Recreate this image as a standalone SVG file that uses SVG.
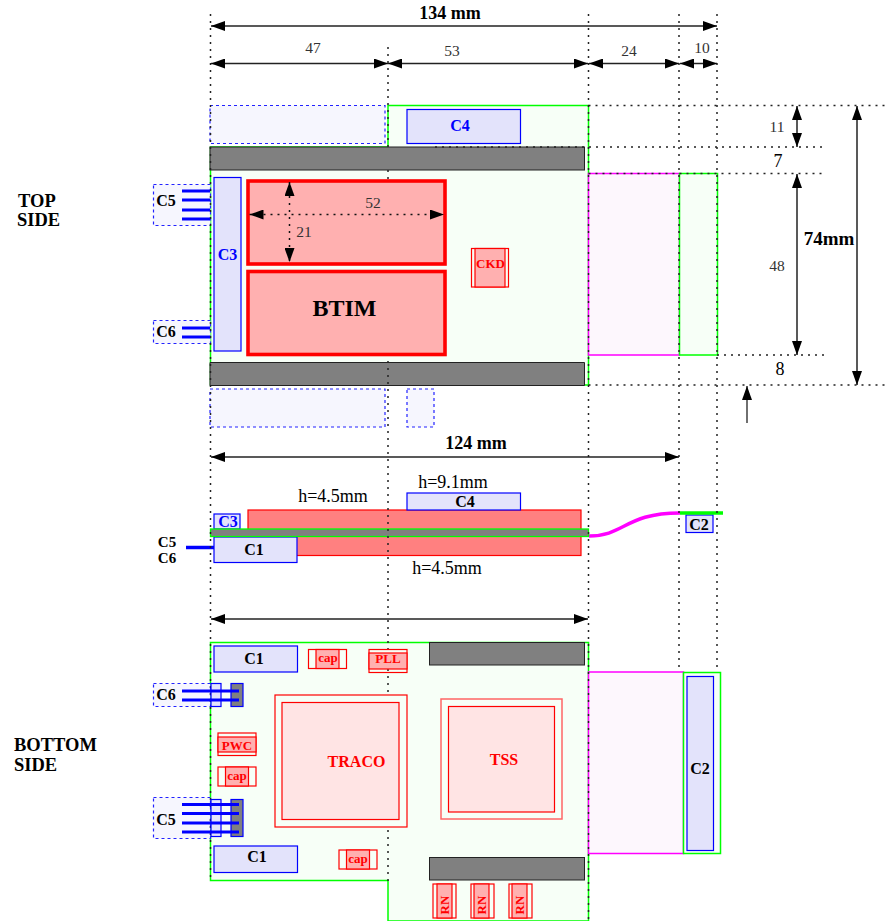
<svg xmlns="http://www.w3.org/2000/svg" width="887" height="921" viewBox="0 0 887 921">
<style>
text{font-family:"Liberation Serif","Times New Roman",serif;fill:#000}
.b{font-weight:bold}
.c{text-anchor:middle}
.d{fill:#333}
.blue{fill:#00f}.red{fill:#f00}
.dot{fill:none;stroke:#222;stroke-width:1.500;stroke-dasharray:2 5}
.dim{fill:none;stroke:#222;stroke-width:1.500;marker-start:url(#s);marker-end:url(#e)}
.bd{fill:#f7fff7;stroke:#0f0;stroke-width:1.500}
.g{fill:#808080;stroke:#222;stroke-width:1}
.cn{fill:#e3e3fb;stroke:#00f;stroke-width:1.200}
.gh{fill:#f6f6fe;stroke:#22f;stroke-width:1.200;stroke-dasharray:3 3}
.mag{fill:#fdf7fd;stroke:#f0f;stroke-width:1.500}
.chip{fill:#ffb0b0;stroke:#f00;stroke-width:3.600}
.sm{fill:#ffb0b0;stroke:#f00;stroke-width:1.200}
.no{fill:none;stroke:#f00;stroke-width:1.200}
.pk{fill:#ffe4e4;stroke:#f00;stroke-width:1.200}
.pin{stroke:#00f;stroke-width:3.200;fill:none}
</style>
<defs>
<marker id="e" markerUnits="userSpaceOnUse" markerWidth="15" markerHeight="10" refX="14" refY="5" orient="auto"><path d="M0 0L14 5L0 10Z" fill="#000"/></marker>
<marker id="s" markerUnits="userSpaceOnUse" markerWidth="15" markerHeight="10" refX="0" refY="5" orient="auto"><path d="M14 0L0 5L14 10Z" fill="#000"/></marker>
</defs>
<g id="top-side">
<path class="bd" d="M388 105.500H588.500V385H210.500V147H388Z"/>
<rect id="top-mag" class="mag" x="588.500" y="173.500" width="91" height="181.500"/>
<rect id="top-green" class="bd" x="679.500" y="173.500" width="38" height="181.500"/>
<rect class="gh" x="210" y="105.500" width="175" height="38"/>
<rect class="gh" x="210" y="389" width="175" height="38"/>
<rect class="gh" x="407" y="389" width="27" height="38"/>
<rect class="gh" x="153.500" y="184.500" width="57" height="41"/>
<rect class="gh" x="153.500" y="320.500" width="57" height="23"/>
<rect class="g" x="210" y="147" width="374.500" height="23"/>
</g>
<g id="side-view">
<rect id="chip-side" x="248" y="510" width="333" height="45.500" fill="#ff8080" stroke="#f00" stroke-width="1.200"/>
<path fill="none" stroke="#f0f" stroke-width="3.500" d="M589 536C625 536 625 513 680 513"/>
<rect class="cn" x="214" y="514" width="26" height="15"/><text class="b blue c" x="228" y="526.500" font-size="16">C3</text>
<rect class="cn" x="407" y="493" width="113.500" height="17"/><text class="b c" x="465" y="507" font-size="16">C4</text>
<rect class="cn" x="214" y="537" width="83" height="25.500"/><text class="b c" x="254" y="555" font-size="16">C1</text>
<rect x="210.500" y="529" width="378" height="7.500" fill="#808080" stroke="#0f0" stroke-width="1.300"/>
<rect class="cn" x="686" y="515" width="27" height="17.500"/><text class="b c" x="699" y="529.500" font-size="16">C2</text>
<path d="M680 513H723" stroke="#0f0" stroke-width="3.500" fill="none"/>
<path d="M186 547.500H214" stroke="#00f" stroke-width="3.500" fill="none"/>
<text class="b c" x="167" y="547" font-size="15">C5</text><text class="b c" x="167" y="563" font-size="15">C6</text>
</g>
<g id="bottom-side">
<path class="bd" d="M210.500 642.500H588.500V921H388V880.500H210.500Z"/>
<rect class="mag" x="588.500" y="672" width="95" height="181.500"/>
<rect class="bd" x="683.500" y="672.500" width="37" height="181"/>
<rect class="g" x="429.500" y="642.500" width="155" height="22.500"/>
<rect class="g" x="429.500" y="857.500" width="155" height="22.500"/>
<rect class="gh" x="153.500" y="683.500" width="57" height="23"/>
<rect class="gh" x="153.500" y="797.500" width="57" height="41"/>
</g>
<g id="connectors">
<path class="g" d="M210 362.500H584.500V385.500H210Z"/>
<path class="dot" d="M210.500 14V881M388 47V147M388 170V181M388 354V881M588.500 14V921M679 14V672M717 14V672"/>
<path class="dot" d="M588.500 105.500H887M435 147H825M588.500 173.500H825M717 355H825M588.500 385H887"/>
<path class="dim" d="M211 26H717"/>
<path class="dim" d="M211 63.500H388"/>
<path class="dim" d="M388 63.500H588"/>
<path class="dim" d="M589 63.500H679"/>
<path class="dim" d="M680 63.500H717"/>
<path class="dim" d="M797 106V147"/>
<path class="dim" d="M797 174V355"/>
<path class="dim" d="M857 106V385"/>
<path d="M747 423V386" fill="none" stroke="#222" stroke-width="1.300" marker-end="url(#e)"/>
<path class="dim" d="M211 457H679"/>
<path class="dim" d="M211 619H588"/>
</g>
<g id="C4-top"><rect class="cn" x="407" y="109.500" width="113.500" height="34"/><text class="b blue c" x="460" y="131" font-size="16">C4</text></g>
<g id="C3-top"><rect class="cn" x="214" y="177.500" width="27" height="173.500"/><text class="b blue c" x="227.500" y="260" font-size="16">C3</text></g>
<g id="C5-top"><path class="pin" d="M182 191H210M182 200H210M182 210H210M182 219H210"/><text class="b c" x="166" y="206" font-size="16">C5</text></g>
<g id="C6-top"><path class="pin" d="M182 328H210M182 337H210"/><text class="b c" x="166" y="337" font-size="16">C6</text></g>
<g id="chip-upper"><rect class="chip" x="248" y="181" width="197" height="83"/>
<path class="dim" style="stroke-dasharray:2 5;stroke:#111" d="M249.500 214.500H444"/>
<path class="dim" style="stroke-dasharray:2 5;stroke:#111" d="M289.500 182V262"/></g>
<g id="BTIM"><rect class="chip" x="248" y="271.500" width="197" height="83"/><text class="b c" x="344.500" y="316" font-size="24">BTIM</text></g>
<g id="CKD"><rect class="no" x="471.500" y="248.500" width="37" height="38.500"/><rect class="sm" x="475" y="248.500" width="30" height="38.500"/><text class="b red c" x="490.500" y="268" font-size="13">CKD</text></g>
<g id="C1-bottom-a"><rect class="cn" x="214" y="646" width="83.500" height="26"/><text class="b c" x="254" y="664" font-size="16">C1</text></g>
<g id="C1-bottom-b"><rect class="cn" x="214" y="846" width="83.500" height="26.500"/><text class="b c" x="257" y="862" font-size="16">C1</text></g>
<g id="C2-bottom"><rect class="cn" x="687" y="676.500" width="26.500" height="174"/><text class="b c" x="700" y="774" font-size="16">C2</text></g>
<g id="C6-bottom"><rect class="cn" x="211" y="683.500" width="10" height="23"/><rect x="231" y="683.500" width="12" height="23" fill="#808080" stroke="#00f" stroke-width="1.200"/><path class="pin" d="M182 691H239M182 700H239"/><text class="b c" x="166" y="700" font-size="16">C6</text></g>
<g id="C5-bottom"><rect class="cn" x="211" y="799.500" width="10" height="37"/><rect x="231" y="799.500" width="12" height="37" fill="#808080" stroke="#00f" stroke-width="1.200"/><path class="pin" d="M182 804.500H239M182 813.500H239M182 823H239M182 832H239"/><text class="b c" x="166" y="825" font-size="16">C5</text></g>
<g id="cap-1"><rect class="no" x="308.500" y="649.500" width="38" height="19"/><rect class="sm" x="316" y="649.500" width="23" height="19"/><text class="b red c" x="328" y="662" font-size="13">cap</text></g>
<g id="PLL"><rect class="no" x="369" y="649.500" width="38" height="23"/><rect class="sm" x="369" y="653" width="38" height="16"/><text class="b red c" x="388" y="663" font-size="13">PLL</text></g>
<g id="PWC"><rect class="no" x="218" y="733" width="38" height="22.500"/><rect class="sm" x="218" y="737" width="38" height="15"/><text class="b red c" x="237" y="750" font-size="13">PWC</text></g>
<g id="cap-2"><rect class="no" x="218" y="767" width="38" height="19"/><rect class="sm" x="225.500" y="767" width="23" height="19"/><text class="b red c" x="237" y="780" font-size="13">cap</text></g>
<g id="cap-3"><rect class="no" x="339" y="850" width="38" height="19"/><rect class="sm" x="346.500" y="850" width="23" height="19"/><text class="b red c" x="358" y="863" font-size="13">cap</text></g>
<g id="TRACO"><rect x="275" y="695" width="132" height="132" fill="#f7fff7" stroke="#f00" stroke-width="1.200"/><rect class="pk" x="282" y="702.500" width="117" height="117"/><text class="b red c" x="356.500" y="767" font-size="16">TRACO</text></g>
<g id="TSS"><rect x="441" y="699" width="121" height="120" fill="#f7fff7" stroke="#f66" stroke-width="1.500"/><rect class="pk" x="448.500" y="706.500" width="106" height="105.500"/><text class="b red c" x="504" y="765" font-size="16">TSS</text></g>
<g id="RN-1"><rect class="no" x="433" y="884" width="23" height="34"/><rect class="sm" x="437" y="884" width="15" height="34"/><text class="b red c" transform="translate(449 905) rotate(-90)" font-size="13">RN</text></g>
<g id="RN-2"><rect class="no" x="471" y="884" width="23" height="34"/><rect class="sm" x="474" y="884" width="15" height="34"/><text class="b red c" transform="translate(486 905) rotate(-90)" font-size="13">RN</text></g>
<g id="RN-3"><rect class="no" x="509" y="884" width="23" height="34"/><rect class="sm" x="512" y="884" width="15" height="34"/><text class="b red c" transform="translate(524 905) rotate(-90)" font-size="13">RN</text></g>
<g id="labels">
<text class="b c" x="450" y="19" font-size="18">134 mm</text>
<text class="d c" x="313" y="53" font-size="15.500">47</text>
<text class="d c" x="452" y="56" font-size="15.500">53</text>
<text class="d c" x="629" y="56" font-size="15.500">24</text>
<text class="d c" x="702" y="53" font-size="15.500">10</text>
<text class="d c" x="373" y="208" font-size="15.500">52</text>
<text class="d c" x="304" y="237" font-size="15.500">21</text>
<text class="d c" x="777" y="132" font-size="15.500">11</text>
<text class="c" x="778" y="167" font-size="18" fill="#222">7</text>
<text class="d c" x="777" y="271" font-size="15.500">48</text>
<text class="c" x="780" y="375" font-size="18" fill="#222">8</text>
<text class="b c" x="829" y="245" font-size="19">74mm</text>
<text class="b" x="18" y="207" font-size="18.500">TOP</text>
<text class="b" x="17" y="226" font-size="18.500">SIDE</text>
<text class="b" x="14" y="751" font-size="18.500">BOTTOM</text>
<text class="b" x="14" y="771" font-size="18.500">SIDE</text>
<text class="b c" x="476" y="449" font-size="18">124 mm</text>
<text class="c" x="333" y="502" font-size="18" fill="#222">h=4.5mm</text>
<text class="c" x="453" y="488" font-size="18" fill="#222">h=9.1mm</text>
<text class="c" x="447" y="574" font-size="18" fill="#222">h=4.5mm</text>
</g>
</svg>
